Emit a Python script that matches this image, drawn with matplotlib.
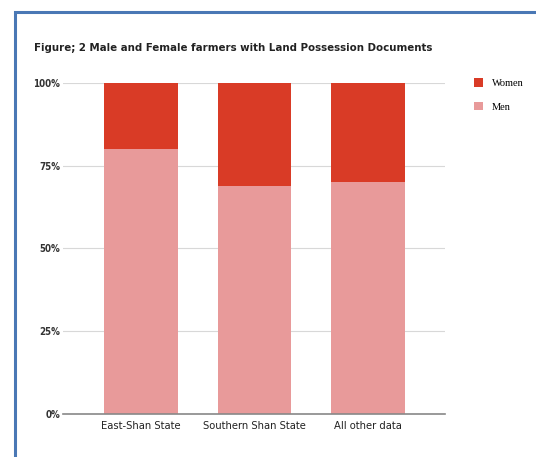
import matplotlib.pyplot as plt
from matplotlib.patches import Rectangle
import numpy as np

# Data
regions = ["East-Shan State", "Southern Shan State", "All other data"]
men = [0.80, 0.69, 0.70]
women = [0.20, 0.31, 0.30]
yticks = [0, 0.25, 0.5, 0.75, 1.0]
ytick_labels = ["0%", "25%", "50%", "75%", "100%"]

men_color = "#e89a9a"
women_color = "#d93b26"

fig = plt.figure(figsize=(5.36, 4.57), dpi=100)
fig.patch.set_facecolor("white")

# blue frame around the figure
fig.patches.append(Rectangle((15 / 536, -0.05), 1.0, 1 - 12 / 457 + 0.05,
                             transform=fig.transFigure, fill=False,
                             edgecolor="#4a78b5", linewidth=2.2))

ax = fig.add_axes([63 / 536, 1 - 414 / 457, (445 - 63) / 536, (414 - 83) / 457])
x = np.arange(len(regions))
ax.bar(x, men, width=0.65, color=men_color, label="Men", zorder=2)
ax.bar(x, women, width=0.65, bottom=men, color=women_color, label="Women", zorder=2)

ax.set_xlim(-0.69, 2.68)
ax.set_ylim(0, 1.0)
ax.set_yticks(yticks)
ax.set_yticklabels(ytick_labels, fontstretch="condensed", fontsize=7, fontweight="bold", color="#333333")
ax.set_xticks(x)
ax.set_xticklabels(regions, fontstretch="condensed", fontsize=8, color="#222222")
ax.tick_params(length=0, pad=5)
ax.tick_params(axis="y", pad=2)
ax.grid(axis="y", color="#d8d8d8", linewidth=0.8, zorder=0)
for s in ["top", "right", "left"]:
    ax.spines[s].set_visible(False)
ax.spines["bottom"].set_color("#888888")
ax.spines["bottom"].set_linewidth(1.2)
ax.spines["bottom"].set_zorder(3)

fig.text(34 / 536, 1 - 48 / 457, "Figure; 2 Male and Female farmers with Land Possession Documents",
         fontstretch="condensed", fontsize=8.2, fontweight="bold", color="#222222", va="center")

handles, labels = ax.get_legend_handles_labels()
fig.legend(handles[::-1], labels[::-1], loc="upper left", bbox_to_anchor=(465 / 536, 1 - 69 / 457),
           frameon=False, prop={"family": "Liberation Serif", "size": 7.5},
           handlelength=0.8, handleheight=0.9, handletextpad=0.9, labelspacing=1.3)

fig.savefig("out.png", dpi=100)
